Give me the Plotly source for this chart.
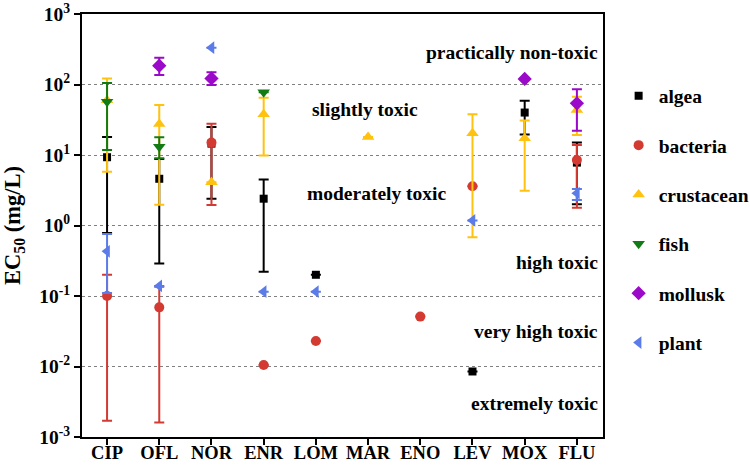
import plotly.graph_objects as go

categories = ["CIP", "OFL", "NOR", "ENR", "LOM", "MAR", "ENO", "LEV", "MOX", "FLU"]

# each series: categories, mean EC50, lower bound, upper bound (mg/L)
algae_x = ["CIP", "OFL", "NOR", "ENR", "LOM", "LEV", "MOX", "FLU"]
algae_y = [9.3, 4.6, 14.5, 2.4, 0.2, 0.0085, 40, 7.8]
algae_lo = [0.78, 0.29, 2.4, 0.22, 0.2, 0.0085, 19.6, 2.0]
algae_hi = [18, 8.8, 25, 4.5, 0.2, 0.0085, 59, 15]

bacteria_x = ["CIP", "OFL", "NOR", "ENR", "LOM", "ENO", "LEV", "FLU"]
bacteria_y = [0.1, 0.069, 15, 0.0105, 0.023, 0.051, 3.6, 8.5]
bacteria_lo = [0.0017, 0.0016, 1.95, 0.0105, 0.023, 0.051, 3.6, 1.79]
bacteria_hi = [0.2, 0.135, 27.8, 0.0105, 0.023, 0.051, 3.6, 13.9]

crustacean_x = ["CIP", "OFL", "NOR", "ENR", "MAR", "LEV", "MOX", "FLU"]
crustacean_y = [60, 27.5, 4.1, 37.8, 18, 20.4, 17.3, 43.5]
crustacean_lo = [5.8, 1.97, 4.1, 9.8, 18, 0.68, 3.1, 19.2]
crustacean_hi = [122, 51, 4.1, 65, 18, 37.8, 30.9, 67]

fish_x = ["CIP", "OFL", "ENR"]
fish_y = [57, 13.1, 77.6]
fish_lo = [11.8, 9.0, 77.6]
fish_hi = [105, 17.8, 77.6]

mollusk_x = ["OFL", "NOR", "MOX", "FLU"]
mollusk_y = [185, 122, 120, 54]
mollusk_lo = [136, 98, 120, 22]
mollusk_hi = [240, 149, 120, 85.5]

plant_x = ["CIP", "OFL", "NOR", "ENR", "LOM", "LEV", "FLU"]
plant_y = [0.43, 0.139, 333, 0.115, 0.115, 1.18, 2.87]
plant_lo = [0.11, 0.139, 333, 0.115, 0.115, 1.18, 2.3]
plant_hi = [0.76, 0.139, 333, 0.115, 0.115, 1.18, 3.3]

ytick_vals = [1e-3, 1e-2, 1e-1, 1e0, 1e1, 1e2, 1e3]
ytick_text = ["<b>10<sup>-3</sup></b>", "<b>10<sup>-2</sup></b>", "<b>10<sup>-1</sup></b>",
              "<b>10<sup>0</sup></b>", "<b>10<sup>1</sup></b>", "<b>10<sup>2</sup></b>",
              "<b>10<sup>3</sup></b>"]

toxicity_labels = ["practically non-toxic", "slightly toxic", "moderately toxic",
                   "high toxic", "very high toxic", "extremely toxic"]

FONT = "Liberation Serif"

series = [
    ("algea", algae_x, algae_y, algae_lo, algae_hi, "square", "#000000", 8),
    ("bacteria", bacteria_x, bacteria_y, bacteria_lo, bacteria_hi, "circle", "#D23A32", 10),
    ("crustacean", crustacean_x, crustacean_y, crustacean_lo, crustacean_hi, "triangle-up", "#FFC20E", 11),
    ("fish", fish_x, fish_y, fish_lo, fish_hi, "triangle-down", "#137B13", 11),
    ("mollusk", mollusk_x, mollusk_y, mollusk_lo, mollusk_hi, "diamond", "#9A0AC8", 11),
    ("plant", plant_x, plant_y, plant_lo, plant_hi, "triangle-left", "#5B7BE8", 11),
]

fig = go.Figure()
for name, xs, ys, lo, hi, sym, col, sz in series:
    plus = [h - y for h, y in zip(hi, ys)]
    minus = [y - l for l, y in zip(lo, ys)]
    fig.add_trace(go.Scatter(
        x=xs, y=ys, mode="markers", name="<b>" + name + "</b>", legendgroup=name,
        marker=dict(symbol=sym, color=col, size=sz),
        error_y=dict(type="data", symmetric=False, array=plus, arrayminus=minus,
                     color=col, thickness=2, width=5),
    ))

ann_font = dict(family=FONT, size=19.5, color="#000000")
# centred labels inside the plot (x in category index, y in log10 units)
fig.add_annotation(x=4.95, y=1.64, text="<b>" + toxicity_labels[1] + "</b>", showarrow=False, font=ann_font)
fig.add_annotation(x=5.18, y=0.46, text="<b>" + toxicity_labels[2] + "</b>", showarrow=False, font=ann_font)
# right-aligned labels
for txt, ylog in [(toxicity_labels[0], 2.46), (toxicity_labels[3], -0.53),
                  (toxicity_labels[4], -1.50), (toxicity_labels[5], -2.52)]:
    fig.add_annotation(x=1, xref="paper", xanchor="right", xshift=-3, y=ylog,
                       text="<b>" + txt + "</b>", showarrow=False, font=ann_font)

fig.update_layout(
    width=750, height=474,
    margin=dict(l=82, r=147, t=14, b=37, autoexpand=False),
    plot_bgcolor="white", paper_bgcolor="white",
    font=dict(family=FONT, color="#000000"),
    legend=dict(x=1.03, y=0.852, xanchor="left", yanchor="top",
                font=dict(family=FONT, size=19.5),
                tracegroupgap=21, bgcolor="rgba(0,0,0,0)"),
    showlegend=True,
)
fig.update_xaxes(
    type="category", categoryorder="array", categoryarray=categories,
    tickmode="array", tickvals=categories, ticktext=["<b>" + c + "</b>" for c in categories],
    range=[-0.48, 9.5], showline=True, linecolor="black", linewidth=2, mirror=True,
    ticks="outside", ticklen=6, tickwidth=2, tickcolor="black",
    tickfont=dict(family=FONT, size=18.5), showgrid=False, zeroline=False,
    automargin=False, ticklabelstandoff=-8,
)
fig.update_yaxes(
    type="log", range=[-3, 3], tickmode="array", tickvals=ytick_vals, ticktext=ytick_text,
    showline=True, linecolor="black", linewidth=2, mirror=True,
    ticks="outside", ticklen=6, tickwidth=2, tickcolor="black",
    tickfont=dict(family=FONT, size=19.5),
    showgrid=True, gridcolor="#808080", griddash="dot", gridwidth=1,
    title=dict(text="<b>EC<sub>50</sub> (mg/L)</b>", font=dict(family=FONT, size=22.5),
               standoff=12),
    automargin=False,
)

fig.write_html(
    "out.html",
    config={"displayModeBar": False},
    post_script="document.body.style.margin='0';document.body.style.overflow='hidden';",
)
